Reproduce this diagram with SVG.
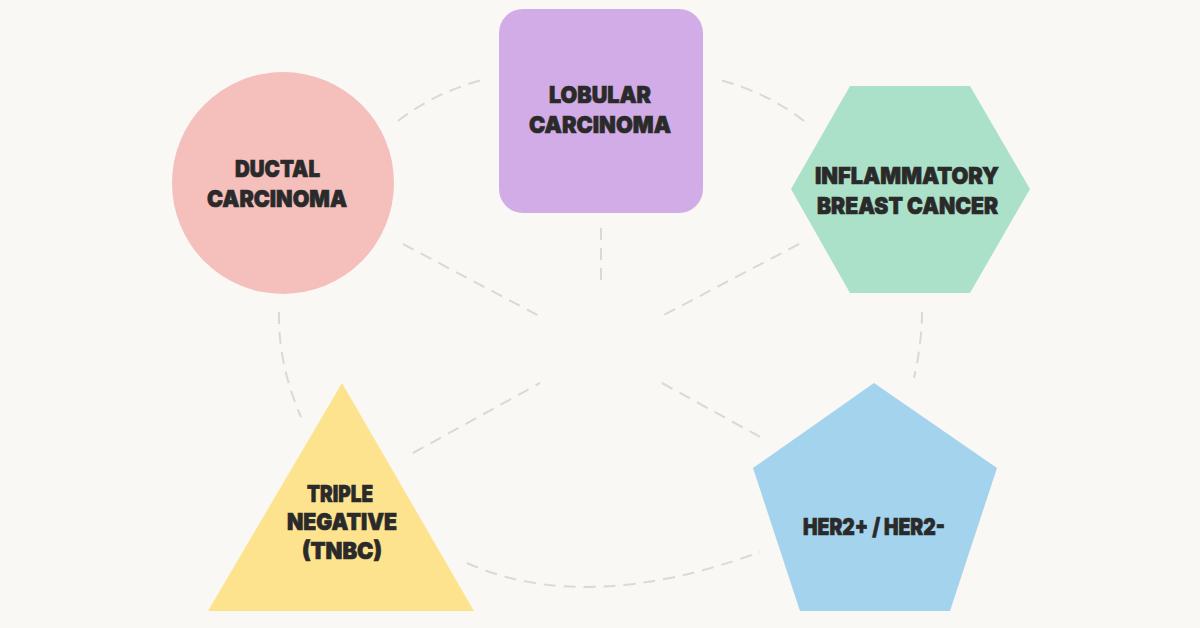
<svg xmlns="http://www.w3.org/2000/svg" width="1200" height="628" viewBox="0 0 1200 628">
  <style>
    .conn { fill: none; stroke: #d9d9d7; stroke-width: 2; stroke-dasharray: 12 8; stroke-linecap: butt; }
    .lbl { font-family: Inter, "Noto Sans", "Liberation Sans", sans-serif; font-weight: 900; font-size: 23.5px; fill: #2a2a2a; stroke: #2a2a2a; stroke-width: 0.7; text-anchor: middle; }
  </style>
  <rect x="0" y="0" width="1200" height="628" fill="#f9f8f4"/>
  <g id="connectors">
    <path class="conn" d="M398,121 Q434,93 482,80"/>
    <path class="conn" d="M804,121 Q768,93 720,80"/>
    <path class="conn" d="M279,312 Q278,364 301,417"/>
    <path class="conn" d="M922,312 Q922,342 914,378"/>
    <path class="conn" d="M467,563 Q585,616 760,552"/>
    <path class="conn" d="M403,244 L543,318"/>
    <path class="conn" d="M601,228 L601,282"/>
    <path class="conn" d="M799,244 L658,318"/>
    <path class="conn" d="M413,453 L540,383"/>
    <path class="conn" d="M662,383 L764,439"/>
  </g>
  <g id="node-ductal">
    <circle cx="283" cy="183" r="111" fill="#f5bfbc"/>
    <text class="lbl" x="277.5" y="177" textLength="85" lengthAdjust="spacingAndGlyphs">DUCTAL</text>
    <text class="lbl" x="277" y="207" textLength="140" lengthAdjust="spacingAndGlyphs">CARCINOMA</text>
  </g>
  <g id="node-lobular">
    <rect x="499" y="9" width="204" height="204" rx="24" fill="#d2ace6"/>
    <text class="lbl" x="600" y="103" textLength="102" lengthAdjust="spacingAndGlyphs">LOBULAR</text>
    <text class="lbl" x="600" y="133" textLength="142" lengthAdjust="spacingAndGlyphs">CARCINOMA</text>
  </g>
  <g id="node-inflammatory">
    <polygon points="791,189 850,86 970,86 1030,189 970,293 850,293" fill="#abe1c8"/>
    <text class="lbl" x="907" y="184" textLength="184" lengthAdjust="spacingAndGlyphs">INFLAMMATORY</text>
    <text class="lbl" x="907.5" y="214" textLength="181" lengthAdjust="spacingAndGlyphs">BREAST CANCER</text>
  </g>
  <g id="node-tnbc">
    <polygon points="342,383 474,611 208,611" fill="#fde38e"/>
    <text class="lbl" x="340" y="502" textLength="66" lengthAdjust="spacingAndGlyphs">TRIPLE</text>
    <text class="lbl" x="342" y="530" textLength="110" lengthAdjust="spacingAndGlyphs">NEGATIVE</text>
    <text class="lbl" x="342" y="559" textLength="80" lengthAdjust="spacingAndGlyphs">(TNBC)</text>
  </g>
  <g id="node-her2">
    <polygon points="874,383 997,468 950,611 800,611 753,468" fill="#a4d4ed"/>
    <text class="lbl" x="874" y="535" textLength="142" lengthAdjust="spacingAndGlyphs">HER2+ / HER2-</text>
  </g>
</svg>
